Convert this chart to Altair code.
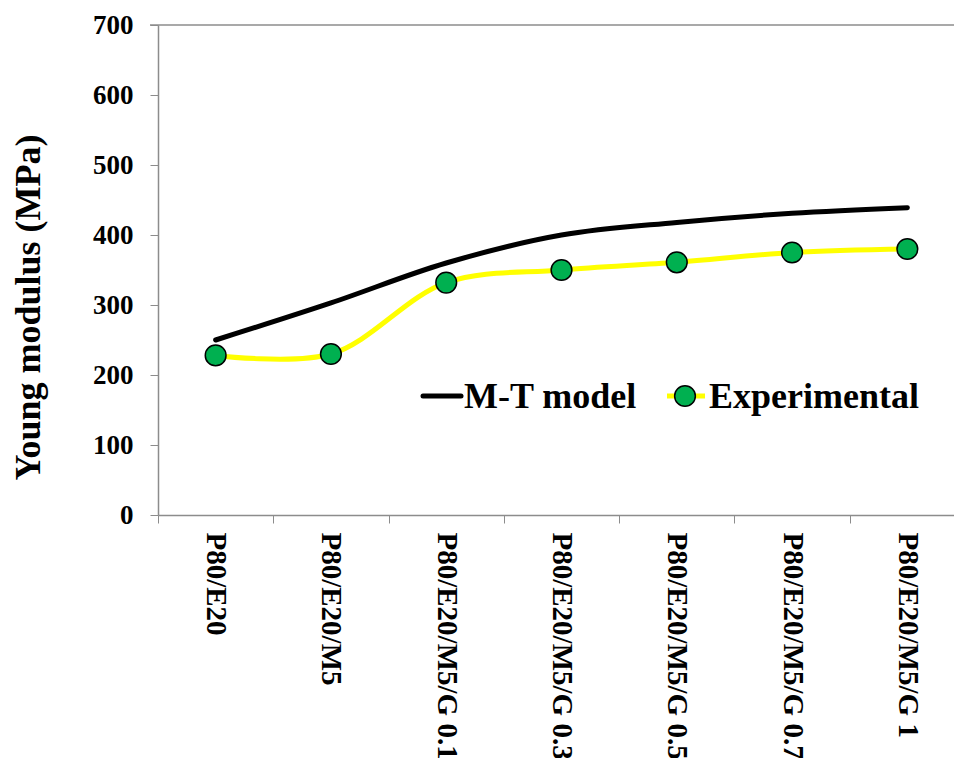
import altair as alt
import pandas as pd

# Sample compositions and measured / modelled Young's modulus (MPa)
categories = ["P80/E20", "P80/E20/M5", "P80/E20/M5/G 0.1", "P80/E20/M5/G 0.3",
              "P80/E20/M5/G 0.5", "P80/E20/M5/G 0.7", "P80/E20/M5/G 1"]
mt_model = [250, 303, 360, 400, 418, 431, 439]
experimental = [228, 230, 332, 350, 361, 375, 380]

df = pd.DataFrame({"sample": categories, "mt": mt_model, "exp": experimental})

FONT = "Liberation Serif"
GREEN = "#00B050"
YELLOW = "#FFFF00"
AXIS_GREY = "#8c8c8c"

x_enc = alt.X(
    "sample:N",
    sort=categories,
    title=None,
    scale=alt.Scale(range=[0, 807], paddingInner=0, paddingOuter=0),
    axis=alt.Axis(
        labelAngle=90, labelAlign="left", labelBaseline="middle",
        labelFont=FONT, labelFontWeight="bold", labelFontSize=29,
        labelColor="black", labelPadding=9, labelLimit=400,
        labelOverlap=False, labelBound=False,
        tickBand="extent", tickSize=8, tickColor=AXIS_GREY,
        domainColor=AXIS_GREY, domainWidth=1.5, grid=False,
    ),
)

y_scale = alt.Scale(domain=[0, 700], nice=False)
y_axis = alt.Axis(
    values=[0, 100, 200, 300, 400, 500, 600, 700],
    title="Young modulus (MPa)",
    titleFont=FONT, titleFontWeight="bold", titleFontSize=36, titleColor="black",
    titleAngle=270, titleAlign="center", titleBaseline="middle",
    titleX=-130, titleY=282,
    labelFont=FONT, labelFontWeight="bold", labelFontSize=27, labelColor="black",
    labelPadding=17, tickSize=8, tickColor=AXIS_GREY,
    domainColor=AXIS_GREY, domainWidth=1.5, grid=False,
)

base = alt.Chart(df)

mt_line = base.mark_line(
    color="black", strokeWidth=5, interpolate="catmull-rom", strokeCap="round"
).encode(x=x_enc, y=alt.Y("mt:Q", scale=y_scale, axis=y_axis))

exp_line = base.mark_line(
    color=YELLOW, strokeWidth=5, interpolate="catmull-rom"
).encode(x=x_enc, y=alt.Y("exp:Q", scale=y_scale))

exp_points = base.mark_point(
    shape="circle", filled=True, size=430, fill=GREEN, stroke="black",
    strokeWidth=1.5, opacity=1
).encode(x=x_enc, y=alt.Y("exp:Q", scale=y_scale))

# Top border of the plot area
top_rule = alt.Chart(pd.DataFrame({"v": [700]})).mark_rule(
    color=AXIS_GREY, strokeWidth=1.5
).encode(y=alt.Y("v:Q", scale=y_scale), x=alt.value(-8), x2=alt.value(807))

# Legend drawn inside the plot area
leg_y = 371
leg_black = alt.Chart(pd.DataFrame({"a": [0]})).mark_rule(
    color="black", strokeWidth=5, strokeCap="round"
).encode(x=alt.value(265), x2=alt.value(303), y=alt.value(leg_y))
leg_black_text = alt.Chart(pd.DataFrame({"t": ["M-T model"]})).mark_text(
    align="left", baseline="alphabetic", font=FONT, fontWeight="bold",
    fontSize=36, color="black"
).encode(text="t:N", x=alt.value(306), y=alt.value(leg_y + 12))
leg_yellow = alt.Chart(pd.DataFrame({"a": [0]})).mark_rule(
    color=YELLOW, strokeWidth=5
).encode(x=alt.value(509), x2=alt.value(547), y=alt.value(leg_y))
leg_dot = alt.Chart(pd.DataFrame({"a": [0]})).mark_point(
    shape="circle", filled=True, size=430, fill=GREEN, stroke="black",
    strokeWidth=1.5, opacity=1
).encode(x=alt.value(527), y=alt.value(leg_y))
leg_exp_text = alt.Chart(pd.DataFrame({"t": ["Experimental"]})).mark_text(
    align="left", baseline="alphabetic", font=FONT, fontWeight="bold",
    fontSize=36, color="black"
).encode(text="t:N", x=alt.value(551), y=alt.value(leg_y + 12))

chart = alt.layer(
    top_rule, mt_line, exp_line, exp_points,
    leg_black, leg_black_text, leg_yellow, leg_dot, leg_exp_text,
).properties(
    width=796, height=490,
    autosize=alt.AutoSizeParams(type="none"),
    padding={"left": 158, "top": 25, "right": 0, "bottom": 243},
    background="white",
).configure_view(stroke=None)

chart.save("out.html", embed_options={"renderer": "svg", "actions": False})
